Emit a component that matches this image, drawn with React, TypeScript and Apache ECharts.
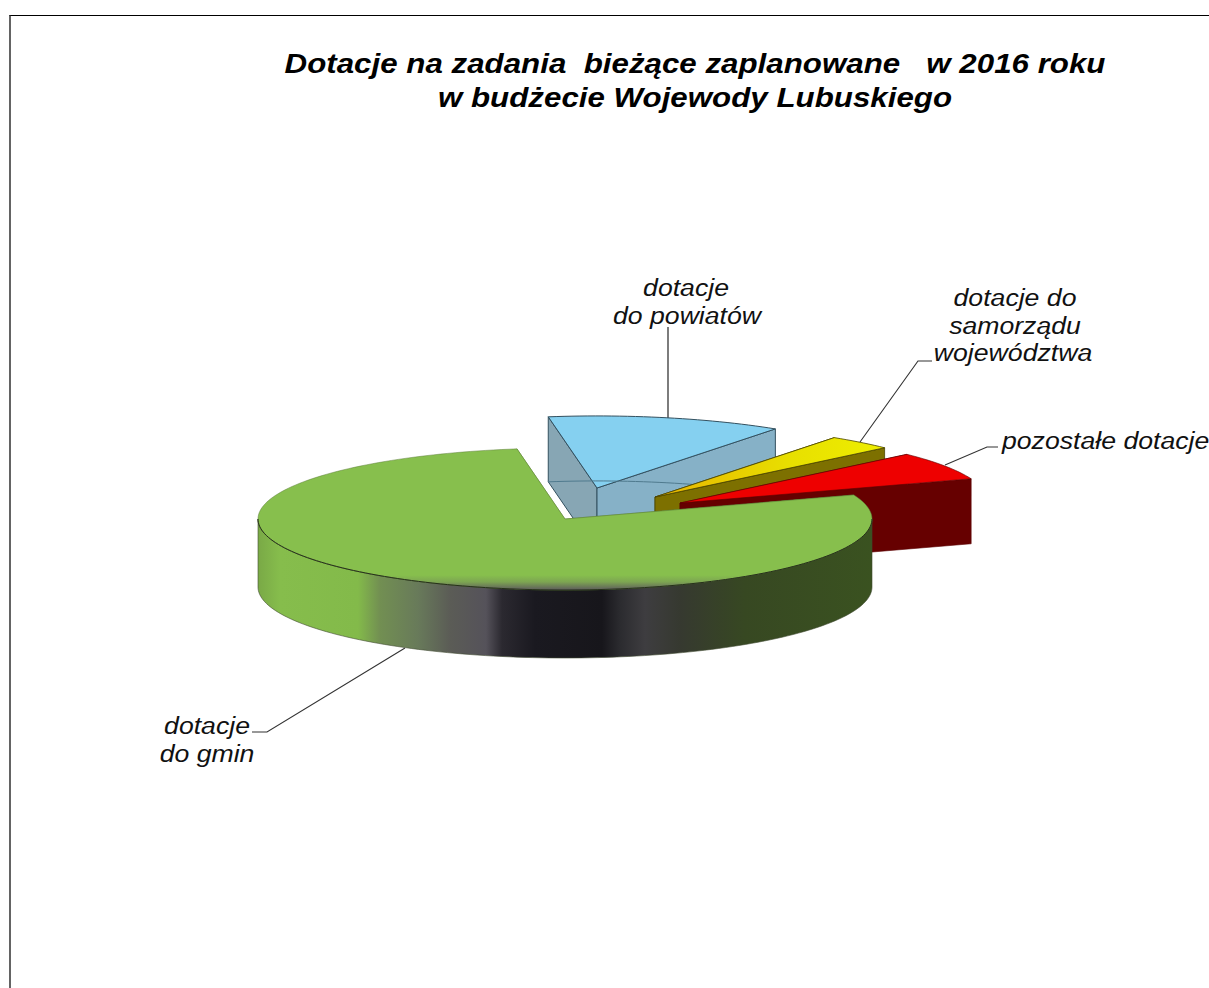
import React, { useEffect, useRef } from "react";
import * as echarts from "echarts";

const titleLines = ["Dotacje na zadania  bieżące zaplanowane   w 2016 roku", "w budżecie Wojewody Lubuskiego"];
const sliceNames = ["dotacje do powiatów", "dotacje do samorządu województwa", "pozostałe dotacje", "dotacje do gmin"];
const sliceValues = [12.2, 3.4, 6.4, 78.0];
const START_ANGLE = -9;

const RX = 307, RY = 71;
const apexes = [[597, 488], [655, 497], [680, 503], [565, 519]];
const radiusScale = [1.015, 1.02, 1.008, 1];
const depths = [65, 65, 65, 68];
const LG = (a: number, b: number, c: number, d: number, stops: [number, string][]) =>
  new echarts.graphic.LinearGradient(a, b, c, d, stops.map(([offset, color]) => ({ offset, color })), true);

const greenX = (x: number) => (x - 257) / 615;
const greenWall = LG(257, 0, 872, 0, [
  [greenX(257), "#79a846"], [greenX(280), "#86bd4c"], [greenX(358), "#83ba4a"], [greenX(380), "#728f52"],
  [greenX(418), "#687a5a"], [greenX(450), "#5b5c56"], [greenX(486), "#55525a"], [greenX(502), "#2b2930"],
  [greenX(535), "#1a1920"], [greenX(602), "#17161b"], [greenX(620), "#2b2b2f"], [greenX(645), "#3e3d40"],
  [greenX(680), "#363930"], [greenX(745), "#374822"], [greenX(872), "#3a5220"],
]);

const sliceStyles = [
  { top: "#85d0f0" as any, startFace: "#87a6b4", endFace: "#86b1c7", stroke: "#33505f", lw: 1 },
  { top: LG(655, 0, 884, 0, [[0, "#e8b400"], [0.6, "#e8e000"], [1, "#eeee00"]]), startFace: "#7d7000", endFace: "#7d7000", stroke: "#4a4400", lw: 0.8 },
  { top: "#ee0000", startFace: "#660000", endFace: "#660000", stroke: "#5a0000", lw: 0.6 },
  { top: "#87bf4d", startFace: "#87bf4d", endFace: "#87bf4d", stroke: "#5c7f38", lw: 0.5 },
];

const total = sliceValues.reduce((a, b) => a + b, 0);
const pt = (c: number[], deg: number, off = 0, s = 1) => {
  const r = (deg * Math.PI) / 180;
  return [c[0] + RX * s * Math.sin(r), c[1] - RY * s * Math.cos(r) + off];
};
const arc = (c: number[], a0: number, a1: number, off = 0, s = 1) => {
  const out: number[][] = [];
  const n = Math.max(2, Math.ceil(Math.abs(a1 - a0) / 1.5));
  for (let i = 0; i <= n; i++) out.push(pt(c, a0 + ((a1 - a0) * i) / n, off, s));
  return out;
};

function renderItem(params: any, api: any) {
  const i = params.dataIndex;
  let before = 0;
  for (let k = 0; k < i; k++) before += sliceValues[k];
  const a0 = START_ANGLE + (before / total) * 360;
  const a1 = a0 + (api.value(0) / total) * 360;
  const c = apexes[i];
  const st = sliceStyles[i];
  const s = radiusScale[i];
  const depth = depths[i];
  const children: any[] = [];
  const poly = (points: number[][], fill: any, stroke?: string, lw?: number) => ({
    type: "polygon",
    shape: { points },
    style: { fill, stroke: stroke || "none", lineWidth: lw || 0 },
    silent: true,
  });
  const corner0 = pt(c, a0, 0, s);
  const corner1 = pt(c, a1, 0, s);
  const cBelow = [c[0], c[1] + depth];
  children.push(poly([c, corner0, [corner0[0], corner0[1] + depth], cBelow], st.startFace, st.stroke, st.lw));
  children.push(poly([c, corner1, [corner1[0], corner1[1] + depth], cBelow], st.endFace, st.stroke, st.lw));

  const f0 = Math.max(a0, 90);
  const f1 = Math.min(a1, 270);
  if (f1 > f0) {
    const outer = arc(c, f0, f1, 0, s);
    const lower = arc(c, f1, f0, depth, s);
    children.push(poly([...outer, ...lower], greenWall, "#3f4a30", 0.6));
  }
  children.push(poly([c, ...arc(c, a0, a1, 0, s)], st.top, st.stroke, st.lw));

  if (i === 0) {
    children.push({
      type: "polyline",
      shape: { points: arc(c, a0, a1, depth, s) },
      style: { stroke: "#4f7a8e", lineWidth: 1, fill: "none" },
      silent: true,
    });
  }
  if (i === 3) {
    const band = arc(c, 90, 270).filter((p) => p[1] >= 575);
    const shade = LG(0, 575, 0, 590, [[0, "rgba(95,90,95,0)"], [0.45, "rgba(95,90,95,0.25)"], [1, "rgba(90,85,92,0.95)"]]);
    children.push(poly(band, shade));
    children.push({
      type: "polyline",
      shape: { points: arc(c, 90, 270) },
      style: { stroke: "#26301a", lineWidth: 1, fill: "none" },
      silent: true,
    });
  }
  return { type: "group", children };
}

const labelFont = { fontFamily: "Liberation Sans", fontStyle: "italic", fontSize: 24, fill: "#111" };
const labelLines: { text: string; x: number; y: number; align?: string }[] = [
  { text: "dotacje", x: 686, y: 287 },
  { text: "do powiatów", x: 687, y: 315 },
  { text: "dotacje do", x: 1015, y: 297 },
  { text: "samorządu", x: 1015, y: 325 },
  { text: "województwa", x: 1013, y: 352 },
  { text: "pozostałe dotacje", x: 1002, y: 440, align: "left" },
  { text: "dotacje", x: 207, y: 725 },
  { text: "do gmin", x: 207, y: 753 },
];
const leaders = [
  [[668, 327], [668, 418]],
  [[860, 442], [918, 361], [932, 361]],
  [[945, 465], [987, 447], [998, 447]],
  [[405, 648], [267, 732], [252, 732]],
];

export default function App() {
  const ref = useRef<HTMLDivElement>(null);
  useEffect(() => {
    document.body.style.margin = "0";
    document.body.style.overflow = "hidden";
    const chart = echarts.init(ref.current!, undefined, { renderer: "svg" });
    chart.setOption({
      animation: false,
      backgroundColor: "#ffffff",
      series: [
        {
          type: "custom",
          coordinateSystem: "none",
          renderItem,
          silent: true,
          clip: false,
          data: sliceValues.map((v, i) => ({ name: sliceNames[i], value: [v] })),
          z: 2,
        },
      ],
      graphic: [
        { type: "line", shape: { x1: 9.5, y1: 15.5, x2: 1209, y2: 15.5 }, style: { stroke: "#000", lineWidth: 1.2 }, z: 1 },
        { type: "line", shape: { x1: 10, y1: 15, x2: 10, y2: 988 }, style: { stroke: "#222", lineWidth: 1.4 }, z: 1 },
        ...titleLines.map((t, i) => ({
          type: "text",
          x: 695,
          y: 63 + i * 34,
          scaleX: 1.118,
          z: 5,
          style: {
            text: t,
            align: "center",
            verticalAlign: "middle",
            fontFamily: "Liberation Sans",
            fontStyle: "italic",
            fontWeight: "bold",
            fontSize: 28,
            fill: "#000",
          },
        })),
        ...leaders.map((points, i) => ({
          type: "polyline",
          z: 1,
          shape: { points },
          style: { stroke: i === 0 ? "#111" : "#333", lineWidth: 1.1, fill: "none" },
        })),
        ...labelLines.map((l) => ({
          type: "text",
          x: l.x,
          y: l.y,
          scaleX: 1.11,
          z: 5,
          style: { ...labelFont, text: l.text, align: l.align || "center", verticalAlign: "middle" },
        })),
      ],
    });
    return () => chart.dispose();
  }, []);
  return <div ref={ref} style={{ width: 1209, height: 988 }} />;
}
